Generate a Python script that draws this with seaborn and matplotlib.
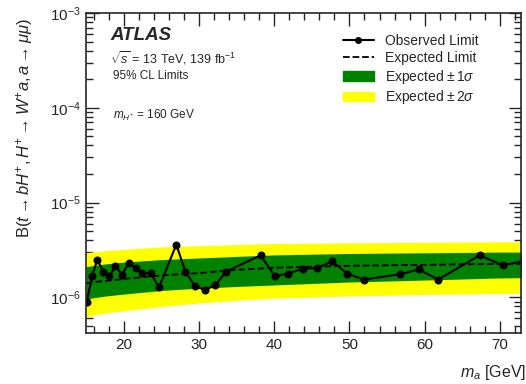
import seaborn as sns
import pandas as pd
import matplotlib.pyplot as plt
import matplotlib.ticker as mticker
from matplotlib.lines import Line2D
from matplotlib.patches import Patch

# observed limit
obs_ma = [15.1, 15.8, 16.5, 17.3, 18.1, 18.9, 19.8, 20.7, 21.6, 22.5, 23.6, 24.7,
          27.0, 28.2, 29.5, 30.8, 32.2, 33.6, 38.2, 40.1, 41.8, 43.8, 45.7, 47.7,
          49.7, 51.9, 56.75, 59.2, 61.8, 67.3, 70.4, 73.0]
obs_lim = [8.9e-7, 1.66e-6, 2.5e-6, 1.87e-6, 1.66e-6, 2.12e-6, 1.74e-6, 2.3e-6,
           2.04e-6, 1.8e-6, 1.8e-6, 1.27e-6, 3.6e-6, 1.87e-6, 1.3e-6, 1.2e-6,
           1.34e-6, 1.87e-6, 2.77e-6, 1.67e-6, 1.78e-6, 2.0e-6, 2.04e-6, 2.4e-6,
           1.78e-6, 1.54e-6, 1.75e-6, 1.97e-6, 1.54e-6, 2.77e-6, 2.17e-6, 2.4e-6]

# expected limit and bands
exp_ma = [15, 16, 18, 20, 25, 30, 35, 40, 50, 60, 70, 75]
exp_lim = [1.4e-6, 1.45e-6, 1.5e-6, 1.56e-6, 1.7e-6, 1.8e-6, 1.95e-6, 2.05e-6, 2.15e-6, 2.2e-6, 2.25e-6, 2.27e-6]
up1 = [2.1e-6, 2.17e-6, 2.27e-6, 2.35e-6, 2.5e-6, 2.6e-6, 2.7e-6, 2.8e-6, 2.9e-6, 2.95e-6, 3.0e-6, 3.0e-6]
dn1 = [0.95e-6, 0.99e-6, 1.04e-6, 1.08e-6, 1.18e-6, 1.25e-6, 1.3e-6, 1.35e-6, 1.45e-6, 1.52e-6, 1.6e-6, 1.62e-6]
up2 = [2.95e-6, 3.02e-6, 3.12e-6, 3.2e-6, 3.4e-6, 3.5e-6, 3.6e-6, 3.7e-6, 3.75e-6, 3.8e-6, 3.85e-6, 3.85e-6]
dn2 = [6.2e-7, 6.5e-7, 6.9e-7, 7.2e-7, 8.0e-7, 8.7e-7, 9.3e-7, 9.8e-7, 1.03e-6, 1.07e-6, 1.1e-6, 1.1e-6]

obs = pd.DataFrame({"ma": obs_ma, "lim": obs_lim})
exp = pd.DataFrame({"ma": exp_ma, "lim": exp_lim, "up1": up1, "dn1": dn1, "up2": up2, "dn2": dn2})

sns.set_style("ticks")
plt.rcParams['font.family'] = ['Liberation Sans', 'DejaVu Sans']
plt.rcParams['mathtext.fontset'] = 'custom'
plt.rcParams['mathtext.rm'] = 'Liberation Sans'
plt.rcParams['mathtext.it'] = 'Liberation Sans:italic'
plt.rcParams['mathtext.bf'] = 'Liberation Sans:bold'

fig = plt.figure(figsize=(5.26, 3.84), dpi=100)
ax = fig.add_axes([86/526, 51/384, 435/526, 320/384])

green = "#008200"
yellow = "#ffff00"
ax.fill_between(exp["ma"], exp["dn2"], exp["up2"], color=yellow, lw=0)
ax.fill_between(exp["ma"], exp["dn1"], exp["up1"], color=green, lw=0)
sns.lineplot(data=exp, x="ma", y="lim", color="black", linestyle="--", lw=1.3, ax=ax)
sns.lineplot(data=obs, x="ma", y="lim", color="black", marker="o", markersize=5,
             markeredgecolor="black", lw=1.5, ax=ax)

ax.set_yscale("log")
ax.set_xlim(15, 72.8)
ax.set_ylim(4.2e-7, 1e-3)
ax.xaxis.set_major_locator(mticker.MultipleLocator(10))
ax.xaxis.set_minor_locator(mticker.MultipleLocator(2))
ax.yaxis.set_major_locator(mticker.LogLocator(base=10, numticks=10))
ax.yaxis.set_minor_locator(mticker.LogLocator(base=10, subs=range(2, 10), numticks=20))
ax.yaxis.set_minor_formatter(mticker.NullFormatter())
ax.tick_params(which="both", direction="in", top=True, right=True, labelsize=11, width=1)
ax.tick_params(which="major", length=9)
ax.tick_params(which="minor", length=5)
for s in ax.spines.values():
    s.set_linewidth(1.2)

ax.set_xlabel("")
ax.set_ylabel("")
fig.text(25/526, 1 - 128/384,
         r"B($t \rightarrow bH^{+}, H^{+} \rightarrow W^{+}a, a \rightarrow \mu\mu$)",
         rotation=90, ha="center", va="center", fontsize=12)
fig.text(1.0, 12/384, r"$m_{a}$ [GeV]", ha="right", va="center", fontsize=11.5)

fig.text(110/526, 1 - 36/384, "ATLAS", fontsize=13.5, fontweight="bold", fontstyle="italic", va="center")
fig.text(110/526, 1 - 58/384, r"$\sqrt{s}$ = 13 TeV, 139 fb$^{-1}$", fontsize=9, va="center")
fig.text(113/526, 1 - 76/384, "95% CL Limits", fontsize=8.5, va="center")
fig.text(113/526, 1 - 115/384, r"$m_{H^{+}}$ = 160 GeV", fontsize=8.5, va="center")

handles = [
    Line2D([], [], color="black", marker="o", markersize=4, lw=1.5),
    Line2D([], [], color="black", linestyle="--", lw=1.3),
    Patch(color=green),
    Patch(color=yellow),
]
labels = ["Observed Limit", "Expected Limit", r"Expected $\pm\,1\sigma$", r"Expected $\pm\,2\sigma$"]
ax.legend(handles, labels, loc="upper left", bbox_to_anchor=(343/526, 1 - 34/384),
          bbox_transform=fig.transFigure, frameon=False, fontsize=10, handlelength=2.2,
          labelspacing=0.2, borderpad=0, borderaxespad=0, handletextpad=0.8)

fig.savefig("out.png", dpi=100)
